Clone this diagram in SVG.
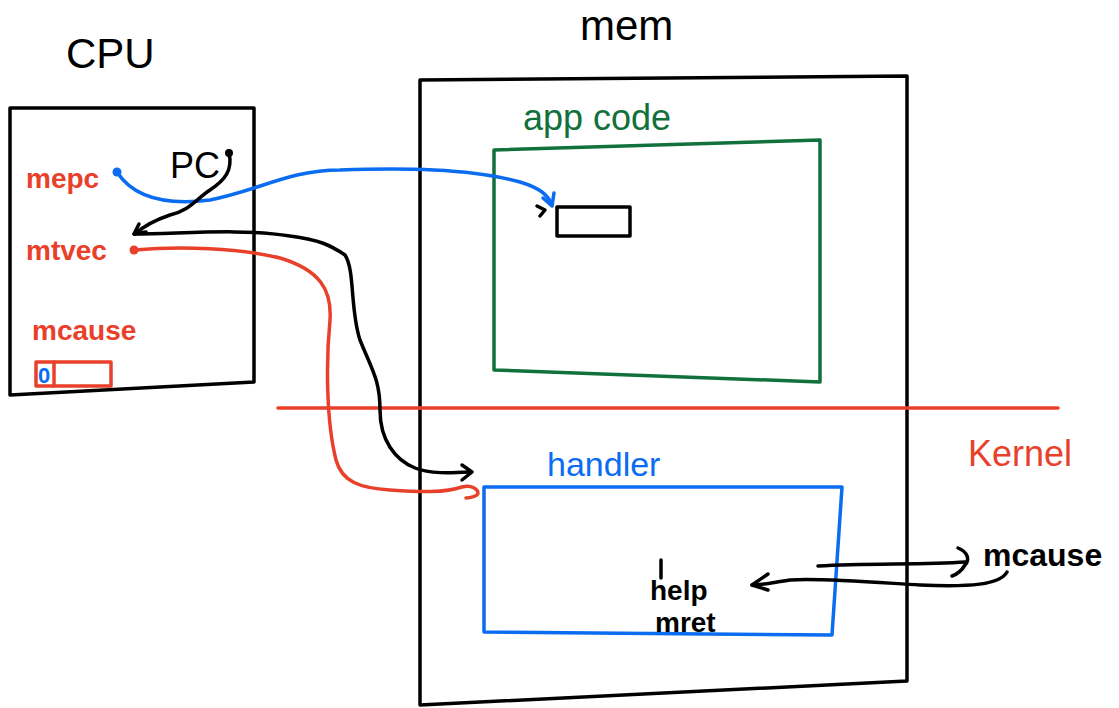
<svg xmlns="http://www.w3.org/2000/svg" width="1119" height="708" viewBox="0 0 1119 708">
<style>
.t{font-family:"Liberation Sans","DejaVu Sans",sans-serif}
.k{fill:none;stroke:#000;stroke-width:3.5;stroke-linecap:round;stroke-linejoin:round}
.r{fill:none;stroke:#e8402a;stroke-width:3.5;stroke-linecap:round;stroke-linejoin:round}
.b{fill:none;stroke:#0a6cf0;stroke-width:3.5;stroke-linecap:round;stroke-linejoin:round}
.g{fill:none;stroke:#11703c;stroke-width:3.5;stroke-linejoin:round}
.red{fill:#e8402a}
.blue{fill:#0a6cf0}
.green{fill:#11703c}
.blk{fill:#000}
</style>
<rect width="1119" height="708" fill="#fff"/>
<g id="cpu">
<polygon class="k" points="10,108 254,108 254,382 10,395"/>
<text class="t blk" x="66" y="68" font-size="42">CPU</text>
<text class="t red" x="26" y="188" font-size="28" font-weight="bold">mepc</text>
<text class="t red" x="26" y="260" font-size="28" font-weight="bold">mtvec</text>
<text class="t red" x="32" y="340" font-size="28" font-weight="bold">mcause</text>
<circle class="blue" cx="117" cy="172" r="4.5"/>
<circle class="red" cx="134" cy="250" r="4.5"/>
<rect class="r" x="36" y="362" width="75" height="24"/>
<line class="r" x1="54" y1="362" x2="54" y2="386"/>
<text class="t blue" x="38" y="383" font-size="22" font-weight="bold">0</text>
</g>
<g id="pc">
<text class="t blk" x="170" y="178" font-size="36">PC</text>
<circle class="blk" cx="229" cy="153" r="4"/>
</g>
<g id="mem">
<polygon class="k" points="420,80 907,76 907,681 420,705"/>
<text class="t blk" x="580" y="40" font-size="42">mem</text>
</g>
<g id="app">
<text class="t green" x="523" y="130" font-size="36">app code</text>
<polygon class="g" points="494,150 820,140 820,382 494,370"/>
<rect class="k" x="557" y="207" width="73" height="29" stroke-width="3"/>
</g>
<g id="handler">
<text class="t blue" x="547" y="476" font-size="34">handler</text>
<polygon class="b" points="484,487 842,487 832,635 484,632"/>
<text class="t blk" x="650" y="600" font-size="28" font-weight="bold">help</text>
<text class="t blk" x="655" y="632" font-size="28" font-weight="bold">mret</text>
<line class="k" x1="661" y1="560" x2="661" y2="578" stroke-width="3"/>
</g>
<g id="kernel">
<line class="r" x1="278" y1="408" x2="1058" y2="408"/>
<text class="t red" x="968" y="466" font-size="36">Kernel</text>
</g>
<g id="mcause2">
<text class="t blk" x="983" y="566" font-size="32" font-weight="bold">mcause</text>
</g>
<g id="connectors">
<path class="b" d="M117,172 C135,200 170,205 210,200 C260,190 290,170 340,170 C400,168 470,168 520,182 C540,188 548,195 552,205"/>
<path class="b" d="M543,198 L552,206 L554,193"/>
<path class="k" d="M229,153 C233,170 225,180 210,190 C195,200 190,210 170,215 C155,220 145,225 135,234"/>
<path class="k" d="M139,224 L134,234 L146,232"/>
<path class="k" d="M134,234 C180,234 240,228 290,236 C320,240 330,245 345,255 C355,270 350,310 360,340 C372,370 380,380 380,410 C380,440 395,460 415,468 C430,474 450,473 470,472"/>
<path class="k" d="M462,465 L472,472 L462,480"/>
<path class="r" d="M134,250 C180,246 240,248 280,258 C320,270 332,290 330,320 C326,360 326,420 336,460 C342,482 360,488 390,490 C420,492 445,493 462,487 C472,484 478,490 478,493 C478,496 470,498 466,498"/>
<path class="k" d="M537,206 L545,210 L540,216" stroke-width="3"/>
<path class="k" d="M818,566 C870,563 920,565 966,562"/>
<path class="k" d="M958,548 C968,552 970,560 965,565 C962,570 958,574 952,576"/>
<path class="k" d="M1007,572 C1000,585 970,587 920,585 C870,582 820,578 790,580 C775,582 765,585 752,585"/>
<path class="k" d="M768,574 L752,585 L768,590"/>
</g>
</svg>
